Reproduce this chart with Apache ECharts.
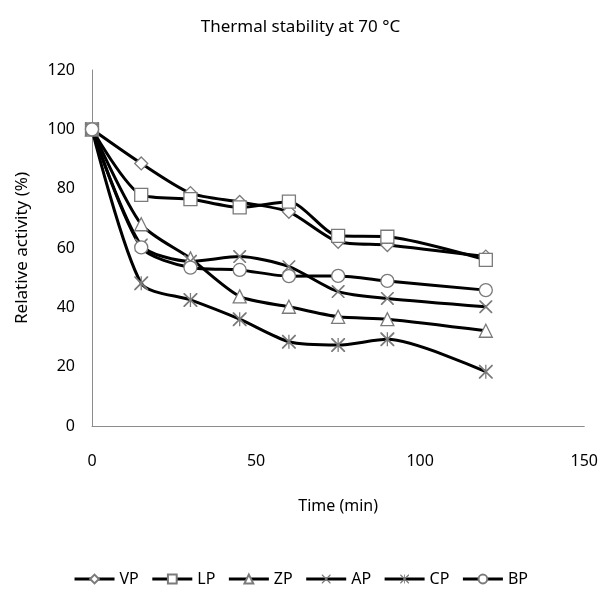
<!DOCTYPE html>
<html>
<head>
<meta charset="utf-8">
<script src="https://cdn.jsdelivr.net/npm/echarts@6/dist/echarts.min.js"></script>
<style>
html,body{margin:0;padding:0;background:#fff;}
#c{width:601px;height:592px;}
</style>
</head>
<body>
<div id="c"></div>
<script>
var time = [0, 15, 30, 45, 60, 75, 90, 120];
var VP = [100, 88.5, 78.5, 75.5, 72.2, 62.1, 61.0, 57.1];
var LP = [100, 77.9, 76.5, 73.7, 75.6, 64.1, 63.8, 56.0];
var ZP = [100, 68.0, 56.5, 43.7, 40.2, 36.8, 36.0, 32.1];
var AP = [100, 61.0, 55.5, 57.1, 53.7, 45.3, 43.0, 40.2];
var CP = [100, 48.1, 42.5, 36.0, 28.4, 27.3, 29.2, 18.3];
var BP = [100, 60.2, 53.4, 52.6, 50.5, 50.6, 48.9, 45.8];
var seriesNames = ['VP', 'LP', 'ZP', 'AP', 'CP', 'BP'];
var xTicks = [0, 50, 100, 150];
var yTicks = [0, 20, 40, 60, 80, 100, 120];

var FONT = 'Noto Sans';
var crossPath = 'path://M0,0 L1.8,0 L20,18.2 L20,20 L18.2,20 L0,1.8 Z M20,0 L20,1.8 L1.8,20 L0,20 L0,18.2 L18.2,0 Z';
var starPath = 'path://M0,0 L1.8,0 L20,18.2 L20,20 L18.2,20 L0,1.8 Z M20,0 L20,1.8 L1.8,20 L0,20 L0,18.2 L18.2,0 Z M9.1,0 L10.9,0 L10.9,20 L9.1,20 Z';

function pairs(vals) {
  return time.map(function (t, i) { return [t, vals[i]]; });
}

var seriesData = [VP, LP, ZP, AP, CP, BP];
var symbols = ['diamond', 'rect', 'triangle', crossPath, starPath, 'circle'];
var sizes = [13, 13, 13, 13, 14, 13];
var filled = [false, false, false, true, true, false];

var series = seriesNames.map(function (name, i) {
  return {
    name: name,
    type: 'line',
    data: pairs(seriesData[i]),
    smooth: 0.25,
    symbol: symbols[i],
    symbolSize: sizes[i],
    showAllSymbol: true,
    lineStyle: { color: '#000', width: 3 },
    itemStyle: filled[i]
      ? { color: '#7a7a7a', borderWidth: 0 }
      : { color: '#ffffff', borderColor: '#7a7a7a', borderWidth: 1.3 },
    emphasis: { disabled: true },
    animation: false
  };
});

var chart = echarts.init(document.getElementById('c'));
chart.setOption({
  animation: false,
  backgroundColor: '#ffffff',
  title: {
    text: 'Thermal stability at 70 \u00B0C',
    left: 'center',
    top: 14,
    textStyle: { fontFamily: FONT, fontSize: 17, fontWeight: 'normal', color: '#000' }
  },
  grid: { left: 92, right: 15, top: 70, bottom: 166 },
  xAxis: {
    type: 'value',
    min: xTicks[0],
    max: xTicks[xTicks.length - 1],
    interval: 50,
    name: 'Time (min)',
    nameLocation: 'middle',
    nameGap: 72,
    nameTextStyle: { fontFamily: FONT, fontSize: 16, color: '#000' },
    axisLine: { show: true, lineStyle: { color: '#8c8c8c', width: 1 } },
    axisTick: { show: false },
    splitLine: { show: false },
    axisLabel: { fontFamily: FONT, fontSize: 16, color: '#000', margin: 27 }
  },
  yAxis: {
    type: 'value',
    min: yTicks[0],
    max: yTicks[yTicks.length - 1],
    interval: 20,
    name: 'Relative activity (%)',
    nameLocation: 'middle',
    nameGap: 61,
    nameTextStyle: { fontFamily: FONT, fontSize: 17, color: '#000' },
    axisLine: { show: true, lineStyle: { color: '#8c8c8c', width: 1 } },
    axisTick: { show: false },
    splitLine: { show: false },
    axisLabel: { fontFamily: FONT, fontSize: 16, color: '#000', margin: 17 }
  },
  legend: {
    data: seriesNames,
    bottom: 0,
    left: 'center',
    itemWidth: 40,
    itemHeight: 11,
    itemGap: 12,
    lineStyle: { width: 3, color: '#000' },
    textStyle: { fontFamily: FONT, fontSize: 16, color: '#000' }
  },
  series: series
});
</script>
</body>
</html>
